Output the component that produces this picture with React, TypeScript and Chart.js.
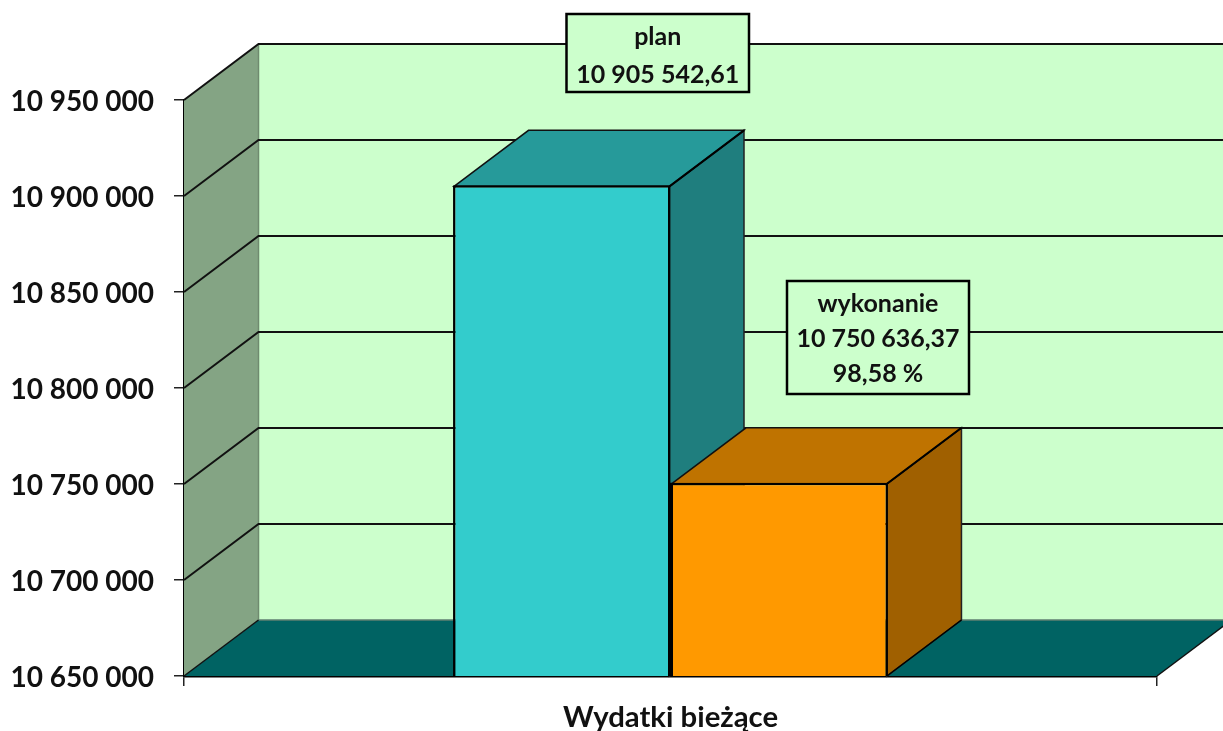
import React, { useEffect, useRef } from "react";
import { Chart, registerables } from "chart.js";

Chart.register(...registerables);

const categories = ["Wydatki bieżące"];
const planValues = [10905542.61];
const wykonanieValues = [10750636.37];
const tickLabels = ["10 650 000", "10 700 000", "10 750 000", "10 800 000", "10 850 000", "10 900 000", "10 950 000"];
const planLabel = ["plan", "10 905 542,61"];
const wykonanieLabel = ["wykonanie", "10 750 636,37", "98,58 %"];

const DX = 74.5;
const DY = 56;
const FAMILY = "Lato, Carlito, sans-serif";
const FONT = `bold 25px ${FAMILY}`;

function poly(ctx: CanvasRenderingContext2D, pts: number[][], fill: string | null, stroke: string | null, lw = 2) {
  ctx.beginPath();
  pts.forEach((p, i) => (i ? ctx.lineTo(p[0], p[1]) : ctx.moveTo(p[0], p[1])));
  if (fill) {
    ctx.closePath();
    ctx.fillStyle = fill;
    ctx.fill();
  }
  if (stroke) {
    ctx.strokeStyle = stroke;
    ctx.lineWidth = lw;
    ctx.stroke();
  }
}

function labelBox(ctx: CanvasRenderingContext2D, x0: number, y0: number, x1: number, y1: number, lines: string[], firstY: number, step: number) {
  ctx.fillStyle = "#CCFFCC";
  ctx.fillRect(x0, y0, x1 - x0, y1 - y0);
  ctx.strokeStyle = "#000";
  ctx.lineWidth = 2.5;
  ctx.strokeRect(x0, y0, x1 - x0, y1 - y0);
  ctx.fillStyle = "#111";
  ctx.font = FONT;
  ctx.textAlign = "center";
  ctx.textBaseline = "middle";
  lines.forEach((t, i) => ctx.fillText(t, (x0 + x1) / 2, firstY + i * step));
}

const box3d = {
  id: "box3d",
  beforeDatasetsDraw(chart: any) {
    const { ctx, chartArea: a, scales } = chart;
    const y = scales.y;
    ctx.save();
    // back wall
    poly(ctx, [[a.left + DX, a.top - DY], [a.right + DX, a.top - DY], [a.right + DX, a.bottom - DY], [a.left + DX, a.bottom - DY]], "#CCFFCC", null);
    // side wall
    poly(ctx, [[a.left, a.top], [a.left + DX, a.top - DY], [a.left + DX, a.bottom - DY], [a.left, a.bottom]], "#84A484", null);
    poly(ctx, [[a.left + DX, a.top - DY], [a.left + DX, a.bottom - DY]], null, "#6f8a6f", 1.5);
    // floor
    poly(ctx, [[a.left, a.bottom], [a.left + DX, a.bottom - DY], [a.right + DX, a.bottom - DY], [a.right, a.bottom]], "#006363", null);
    poly(ctx, [[a.left + DX, a.bottom - DY], [a.right + DX, a.bottom - DY]], null, "#5f7f70", 1.5);
    poly(ctx, [[a.left, a.bottom], [a.left + DX, a.bottom - DY]], null, "#111", 1.5);
    poly(ctx, [[a.right, a.bottom], [a.right + DX, a.bottom - DY]], null, "#111", 1.5);
    // gridlines
    y.ticks.forEach((t: any) => {
      const py = y.getPixelForValue(t.value);
      if (t.value === y.min) return;
      poly(ctx, [[a.left, py], [a.left + DX, py - DY], [a.right + DX, py - DY]], null, "#111", 2);
    });
    // bar depth faces
    const faces = [
      { top: "#269A9A", side: "#1F7E7E" },
      { top: "#BF7300", side: "#A06000" },
    ];
    [0, 1].forEach((di) => {
      const el = chart.getDatasetMeta(di).data[0];
      const l = el.x - el.width / 2 + 1;
      const r = el.x + el.width / 2 - 1;
      const t = el.y + 1;
      const b = a.bottom;
      const f = faces[di];
      poly(ctx, [[r, t], [r + DX, t - DY], [r + DX, b - DY], [r, b]], f.side, "#222", 1.5);
      poly(ctx, [[l, t], [l + DX, t - DY], [r + DX, t - DY], [r, t]], f.top, "#111", 1.5);
      poly(ctx, [[r, t], [r + DX, t - DY]], null, "#000", 2);
      poly(ctx, [[r, b], [r + DX, b - DY]], null, "#000", 1.5);
    });
    ctx.restore();
  },
  afterDatasetsDraw(chart: any) {
    const { ctx, chartArea: a } = chart;
    ctx.save();
    const plan = chart.getDatasetMeta(0).data[0];
    const done = chart.getDatasetMeta(1).data[0];
    const seam = (plan.x + plan.width / 2 + done.x - done.width / 2) / 2;
    poly(ctx, [[seam, done.y], [seam, a.bottom]], null, "#000", 2.5);
    labelBox(ctx, 566.5, 14, 749, 92, planLabel, 37, 38);
    labelBox(ctx, 787, 281, 969, 394, wykonanieLabel, 304, 35);
    ctx.restore();
  },
};

export default function App() {
  const ref = useRef<HTMLCanvasElement>(null);
  useEffect(() => {
    const chart = new Chart(ref.current as HTMLCanvasElement, {
      type: "bar",
      data: {
        labels: categories,
        datasets: [
          { label: "plan", data: planValues, backgroundColor: "#33CCCC", borderColor: "#000", borderWidth: 2.5, borderSkipped: false },
          { label: "wykonanie", data: wykonanieValues, backgroundColor: "#FF9900", borderColor: "#000", borderWidth: 2.5, borderSkipped: false },
        ],
      },
      options: {
        responsive: false,
        animation: false,
        devicePixelRatio: 1,
        layout: { padding: { top: 100, right: 66, left: 0, bottom: 0 } },
        datasets: { bar: { categoryPercentage: 0.447, barPercentage: 1 } },
        plugins: { legend: { display: false }, title: { display: false }, tooltip: { enabled: false } },
        scales: {
          x: {
            afterFit: (s: any) => { s.height = 55; },
            grid: { drawOnChartArea: false, drawTicks: true, tickLength: 10, color: "#222", lineWidth: 1.5 },
            border: { display: true, color: "#000", width: 2.5 },
            ticks: { color: "#111", padding: 14, font: { family: FAMILY, size: 29.3, weight: "bold" }, maxRotation: 0 },
          },
          y: {
            min: 10650000,
            max: 10950000,
            afterFit: (s: any) => { s.width = 184; },
            grid: { drawOnChartArea: false, drawTicks: true, tickLength: 10, color: "#222", lineWidth: 1.5 },
            border: { display: true, color: "#000", width: 2 },
            ticks: {
              stepSize: 50000,
              color: "#111",
              padding: 20,
              labelOffset: 2,
              font: { family: FAMILY, size: 28, weight: "bold" },
              callback: (_v: any, i: number) => tickLabels[i],
            },
          },
        },
      },
      plugins: [box3d],
    } as any);
    return () => chart.destroy();
  }, []);
  return (
    <canvas
      ref={ref}
      width={1223}
      height={731}
      style={{ position: "fixed", left: 0, top: 0, width: 1223, height: 731, display: "block", background: "#fff" }}
    />
  );
}
